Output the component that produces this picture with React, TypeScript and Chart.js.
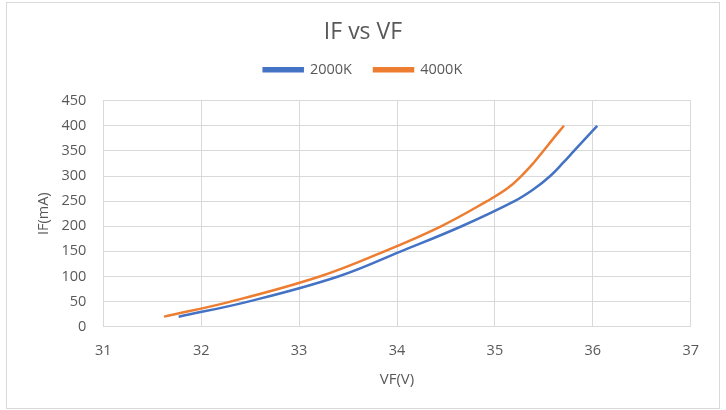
import React, { useEffect, useRef } from "react";
import { Chart, registerables } from "chart.js";

Chart.register(...registerables);

const chartTitle = "IF vs VF";
const seriesNames = ["2000K", "4000K"];
const seriesColors = ["#4472C4", "#ED7D31"];
// forward current (mA)
const ifValues = [20, 50, 100, 150, 200, 250, 275, 300, 325, 350, 375, 400];
// forward voltage (V) per series
const vf2000 = [31.77, 32.48, 33.4, 34.04, 34.66, 35.2, 35.405, 35.565, 35.69, 35.808, 35.926, 36.045];
const vf4000 = [31.62, 32.3, 33.21, 33.87, 34.45, 34.92, 35.125, 35.27, 35.39, 35.495, 35.598, 35.705];
const xAxisTitle = "VF(V)";
const yAxisTitle = "IF(mA)";
const xMin = 31;
const xMax = 37;
const yMin = 0;
const yMax = 450;

const FONT = "'Open Sans', 'Noto Sans', sans-serif";
const TEXT = "#595959";
const GRID = "#d9d9d9";

export default function App() {
  const ref = useRef<HTMLCanvasElement>(null);

  useEffect(() => {
    document.body.style.margin = "0";
    const canvas = ref.current;
    if (!canvas) return;

    const frame = {
      id: "frame",
      beforeDraw(c: any) {
        const ctx = c.ctx;
        ctx.save();
        ctx.fillStyle = "#ffffff";
        ctx.fillRect(0, 0, c.width, c.height);
        ctx.strokeStyle = GRID;
        ctx.lineWidth = 1;
        ctx.strokeRect(6.5, 2.5, 713, 406);
        ctx.restore();
      },
    };

    const toPoints = (xs: number[]) => xs.map((x, i) => ({ x, y: ifValues[i] }));

    const chart = new Chart(canvas, {
      type: "scatter",
      data: {
        datasets: [
          {
            label: seriesNames[0],
            data: toPoints(vf2000),
            showLine: true,
            borderColor: seriesColors[0],
            backgroundColor: seriesColors[0],
            borderWidth: 2.5,
            pointRadius: 0,
            tension: 0.4,
          },
          {
            label: seriesNames[1],
            data: toPoints(vf4000),
            showLine: true,
            borderColor: seriesColors[1],
            backgroundColor: seriesColors[1],
            borderWidth: 2.5,
            pointRadius: 0,
            tension: 0.4,
          },
        ],
      },
      options: {
        responsive: false,
        animation: false,
        layout: { padding: { left: 0, right: 0, top: 0, bottom: 0 } },
        plugins: {
          title: {
            display: true,
            text: chartTitle,
            color: TEXT,
            font: { family: FONT, size: 23, weight: "normal", lineHeight: 1 },
            padding: { top: 21, bottom: -3.5 },
          },
          subtitle: {
            display: true,
            text: "",
            weight: 500,
            font: { size: 13.7, lineHeight: 1 },
            padding: 0,
          } as any,
          legend: {
            display: true,
            position: "top",
            labels: {
              color: TEXT,
              font: { family: FONT, size: 14.5 },
              boxWidth: 39,
              boxHeight: 3,
              padding: 22,
            },
          },
          tooltip: { enabled: false },
        },
        scales: {
          x: {
            type: "linear",
            min: xMin,
            max: xMax,
            ticks: {
              stepSize: 1,
              color: TEXT,
              font: { family: FONT, size: 14.5 },
              padding: 15,
            },
            grid: { color: GRID, lineWidth: 1, drawTicks: false },
            border: { color: GRID, width: 1 },
            title: {
              display: true,
              text: xAxisTitle,
              color: TEXT,
              font: { family: FONT, size: 15 },
              padding: { top: 0, bottom: 21 },
            },
            afterFit: (s: any) => {
              s.height = 83.3;
            },
          },
          y: {
            type: "linear",
            min: yMin,
            max: yMax,
            ticks: {
              stepSize: 50,
              color: TEXT,
              font: { family: FONT, size: 14.5 },
              padding: 17,
            },
            grid: { color: GRID, lineWidth: 1, drawTicks: false },
            border: { color: GRID, width: 1 },
            title: {
              display: true,
              text: yAxisTitle,
              color: TEXT,
              font: { family: FONT, size: 14.5 },
              padding: { top: 35, bottom: 0 },
            },
            afterFit: (s: any) => {
              s.width = 103.3;
            },
          },
          yRightSpace: {
            type: "linear",
            position: "right",
            display: true,
            grid: { display: false, drawTicks: false },
            border: { display: false },
            ticks: { display: false },
            afterFit: (s: any) => {
              s.width = 35.3;
            },
          },
        },
      },
      plugins: [frame],
    });

    return () => chart.destroy();
  }, []);

  return <canvas ref={ref} width={726} height={410} style={{ display: "block" }} />;
}
